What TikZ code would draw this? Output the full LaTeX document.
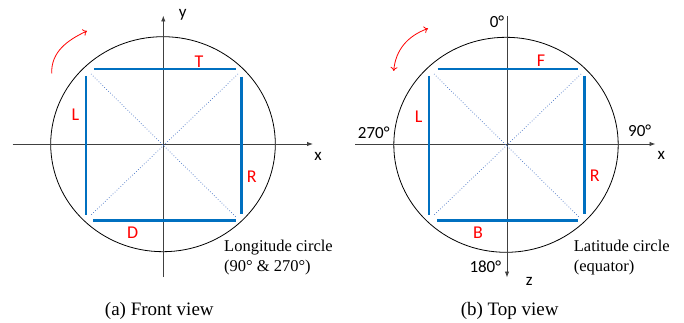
\documentclass[tikz,border=0pt]{standalone}
\usepackage{fontspec}
\setmainfont{Liberation Serif}
\newfontfamily\sansf{Carlito}
\usetikzlibrary{arrows.meta}
\definecolor{officeblue}{RGB}{0,112,192}
\definecolor{diagblue}{RGB}{68,114,196}
\definecolor{axisgray}{RGB}{64,64,64}
\tikzset{
  ring/.style={draw=black,line width=0.8pt},
  axisline/.style={draw=axisgray,line width=0.9pt},
  axistip/.style={-{Latex[length=6pt,width=4.5pt]}},
  bar/.style={draw=officeblue,line width=2.6pt},
  diag/.style={draw=diagblue,line width=0.7pt,dotted},
  facelbl/.style={inner sep=0pt,text=red,font=\sansf\fontsize{18}{18}\selectfont},
  axlbl/.style={inner sep=0pt,text=black,font=\sansf\fontsize{17}{17}\selectfont},
  circtxt/.style={inner sep=0pt,align=left,anchor=west,font=\fontsize{16.5}{20}\selectfont},
  captxt/.style={inner sep=0pt,font=\fontsize{19}{19}\selectfont},
  rot/.style={draw=red,line width=0.8pt}
}
\begin{document}
\begin{tikzpicture}[x=1pt,y=-1pt]
\useasboundingbox (0,0) rectangle (684,323);
% ---------------- (a) Front view ----------------
\coordinate (ca) at (163,144.2);
\draw[ring] (ca) ellipse [x radius=112.3, y radius=107.5];
\coordinate (axL) at (12.7,144);
\coordinate (axR) at (313,144);
\coordinate (ayB) at (163.3,277);
\coordinate (ayT) at (163.3,15.5);
\draw[axisline,axistip] (axL) -- (axR);
\draw[axisline,axistip] (ayB) -- (ayT);
\node[axlbl] (ya) at (182.7,15) {y};
\node[axlbl] (xa) at (318,156) {x};
% blue bars
\coordinate (t1) at (94.3,69); \coordinate (t2) at (236,69);
\coordinate (d1) at (93.3,220.7); \coordinate (d2) at (236,220.7);
\coordinate (l1) at (86,76); \coordinate (l2) at (86,215);
\coordinate (r1) at (241.7,76.7); \coordinate (r2) at (241.7,214);
\draw[bar] (t1) -- (t2);
\draw[bar] (d1) -- (d2);
\draw[bar] (l1) -- (l2);
\draw[bar] (r1) -- (r2);
\coordinate (g1) at (91,74); \coordinate (g2) at (237,218);
\coordinate (g3) at (238,74); \coordinate (g4) at (90,216);
\draw[diag] (g1) -- (g2);
\draw[diag] (g3) -- (g4);
\node[facelbl] (T) at (199,61.7) {T};
\node[facelbl] (La) at (75.3,114.3) {L};
\node[facelbl] (Ra) at (251.7,176.7) {R};
\node[facelbl] (D) at (132.7,232.3) {D};
\coordinate (ra1) at (51.7,73.5);
\coordinate (ra2) at (87,31);
\draw[rot,-{To[length=4pt,width=7pt]}] (ra1) to[out=92,in=205] (ra2);
\node[circtxt] (lon) at (224,258) {Longitude circle\\(90° \& 270°)};
\node[captxt] (capa) at (159.3,310.5) {(a) Front view};
% ---------------- (b) Top view ----------------
\coordinate (cb) at (506,144.8);
\draw[ring] (cb) ellipse [x radius=112.2, y radius=107.5];
\coordinate (bxL) at (355.3,144);
\coordinate (bxR) at (655.5,144);
\coordinate (bzT) at (507,16);
\coordinate (bzB) at (507,277.5);
\draw[axisline,axistip] (bxL) -- (bxR);
\draw[axisline,axistip] (bzT) -- (bzB);
\node[axlbl] (deg0) at (497,21.7) {0°};
\node[axlbl] (deg270) at (373.7,132.7) {270°};
\node[axlbl] (deg90) at (639.7,131) {90°};
\node[axlbl] (xb) at (661.3,155) {x};
\node[axlbl] (deg180) at (485.3,266.7) {180°};
\node[axlbl] (zb) at (529.3,281.7) {z};
\coordinate (f1) at (437.7,69); \coordinate (f2) at (578,69);
\coordinate (b1) at (437,220.3); \coordinate (b2) at (578,220.3);
\coordinate (lb1) at (429,76); \coordinate (lb2) at (429,215);
\coordinate (rb1) at (584.7,76); \coordinate (rb2) at (584.7,214);
\draw[bar] (f1) -- (f2);
\draw[bar] (b1) -- (b2);
\draw[bar] (lb1) -- (lb2);
\draw[bar] (rb1) -- (rb2);
\coordinate (h1) at (434,74); \coordinate (h2) at (580,218);
\coordinate (h3) at (581,74); \coordinate (h4) at (433,216);
\draw[diag] (h1) -- (h2);
\draw[diag] (h3) -- (h4);
\node[facelbl] (F) at (541,60.5) {F};
\node[facelbl] (Lb) at (418.7,116.7) {L};
\node[facelbl] (Rb) at (594.7,176) {R};
\node[facelbl] (B) at (478,232.3) {B};
\coordinate (rb1a) at (393.7,71);
\coordinate (rb2a) at (428,28.5);
\draw[rot,{To[length=4pt,width=7pt]}-{To[length=4pt,width=7pt]}] (rb1a) to[out=85,in=200] (rb2a);
\node[circtxt] (lat) at (573.7,258) {Latitude circle\\(equator)};
\node[captxt] (capb) at (509.7,310.5) {(b) Top view};
\end{tikzpicture}
\end{document}
